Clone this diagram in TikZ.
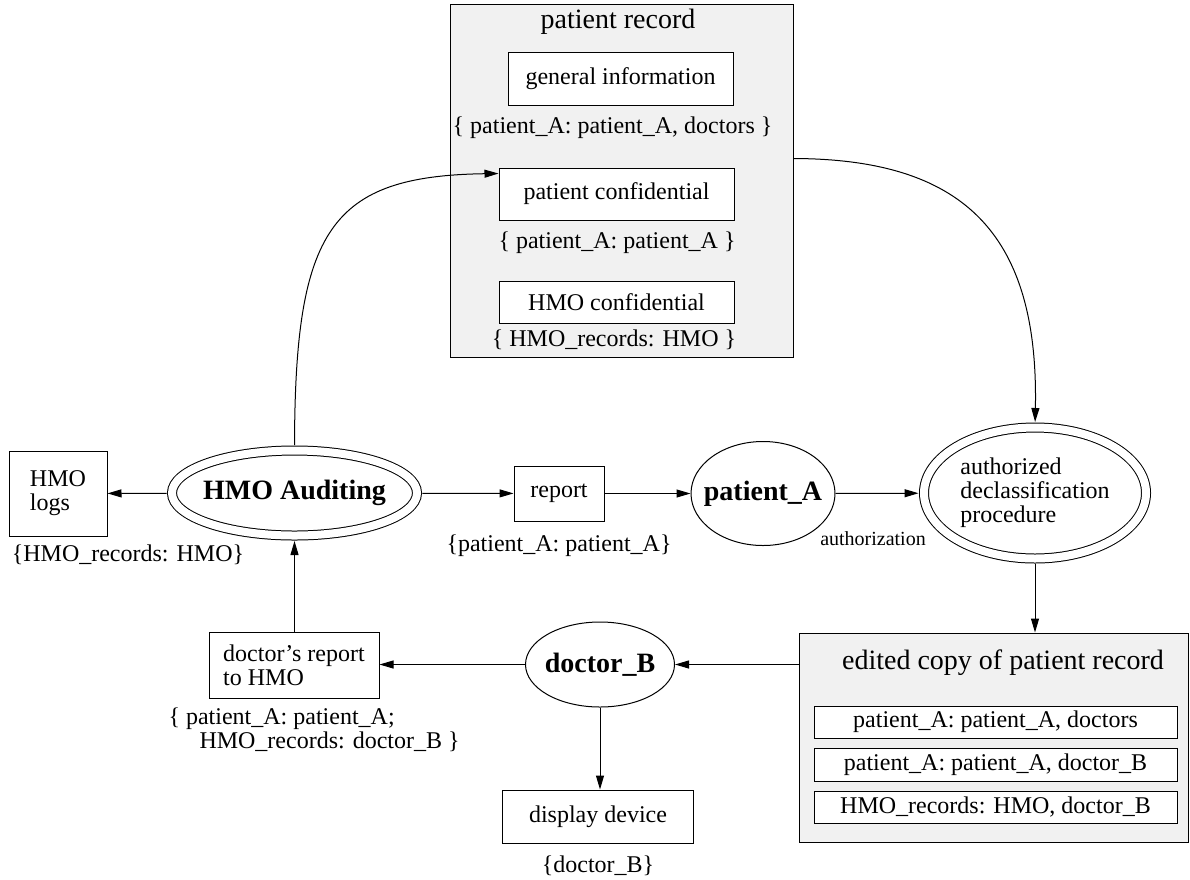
\documentclass[tikz,border=0pt]{standalone}
\usepackage{fontspec}
\setmainfont{Liberation Serif}
\usetikzlibrary{arrows.meta,shapes.geometric}
\definecolor{panelgray}{RGB}{241,241,241}
\begin{document}
\begin{tikzpicture}[x=1pt, y=-1pt, line width=1pt, >={Triangle[length=14pt,width=8pt]},
every node/.style={font=\fontsize{24}{24}\selectfont, inner sep=0pt},
panel/.style={draw, rectangle, fill=panelgray},
box node/.style={draw, rectangle, fill=white},
main node/.style={draw, ellipse, inner xsep=-20pt, font=\fontsize{28}{30}\selectfont\bfseries},
proc node/.style={draw, ellipse, double, double distance=8pt, inner xsep=-20pt},
title/.style={font=\fontsize{28}{30}\selectfont}]
\useasboundingbox (0,0) rectangle (1190,879);
% patient record
\node [panel, minimum width=343pt, minimum height=353pt] (prec) at (621.5,180.5) {};
\node [title] (prectitle) at (618,22) {patient record};
\node [box node, minimum width=225pt, minimum height=53pt] (geninfo) at (620.5,78.5) {general information};
\node (geninfolbl) at (612.5,128) {\{ patient\_A: patient\_A, doctors \}};
\node [box node, minimum width=235pt, minimum height=52pt] (pconf) at (616.5,194) {patient confidential};
\node (pconflbl) at (617,243) {\{ patient\_A: patient\_A \}};
\node [box node, minimum width=235pt, minimum height=42pt] (hconf) at (616.5,302) {HMO confidential};
\node (hconflbl) at (614,340) {\{ HMO\_records: HMO \}};
% middle row
\node [box node, minimum width=98pt, minimum height=85pt, align=left] (logs) at (58,493.5) {HMO\\logs};
\node (logslbl) at (128,555) {\{HMO\_records: HMO\}};
\node [proc node, minimum width=245pt, minimum height=85pt, font=\fontsize{28}{30}\selectfont\bfseries] (auditing) at (294.5,493) {HMO Auditing};
\node [box node, minimum width=90pt, minimum height=55pt] (report) at (559,493.5) {report};
\node (reportlbl) at (559,546) {\{patient\_A: patient\_A\}};
\node [main node, minimum width=144pt, minimum height=104pt] (patA) at (763,493.5) {patient\_A};
\node [font=\fontsize{20}{22}\selectfont] (authlbl) at (873,539) {authorization};
\node [proc node, minimum width=222pt, minimum height=131pt, align=left] (declass) at (1035,493) {authorized\\declassification\\procedure};
% edited copy
\node [panel, minimum width=389pt, minimum height=209pt] (edited) at (993.5,737.5) {};
\node [title] (editedtitle) at (1003,663) {edited copy of patient record};
\node [box node, minimum width=363pt, minimum height=32pt] (ed1) at (995.5,722) {patient\_A: patient\_A, doctors};
\node [box node, minimum width=363pt, minimum height=33pt] (ed2) at (995.5,764.5) {patient\_A: patient\_A, doctor\_B};
\node [box node, minimum width=363pt, minimum height=32pt] (ed3) at (995.5,807) {HMO\_records: HMO, doctor\_B};
% bottom row
\node [main node, minimum width=149pt, minimum height=85pt] (docB) at (600,664.5) {doctor\_B};
\node [box node, minimum width=170pt, minimum height=66pt, align=left] (docrep) at (294,665) {doctor's report\\to HMO};
\node [anchor=west, align=left] (docreplbl) at (168,730) {\{ patient\_A: patient\_A;\\\hspace*{31pt}HMO\_records: doctor\_B \}};
\node [box node, minimum width=191pt, minimum height=53pt] (display) at (598,816.5) {display device};
\node (displaylbl) at (598,865.5) {\{doctor\_B\}};
\path [->]
    (auditing) edge [shorten <=5pt] (logs)
    (auditing) edge [shorten <=5pt] (report)
    (report) edge (patA)
    (patA) edge [shorten >=5pt] (declass)
    (declass.south) edge [shorten <=5pt] (declass.south |- edited.north)
    (edited.west |- docB.east) edge (docB.east)
    (docB.west) edge (docB.west -| docrep.east)
    (docB.south) edge (docB.south |- display.north)
    (docrep.north -| auditing.south) edge [shorten >=5pt] (auditing.south)
         ;
\draw [->, shorten <=5pt] (auditing.north) .. controls (295,230) and (330,176) .. ([yshift=-6pt]pconf.north west);
\draw [->, shorten >=5pt] ([yshift=22pt]prec.east) .. controls (960,159) and (1039,230) .. (declass.north);
\end{tikzpicture}
\end{document}
